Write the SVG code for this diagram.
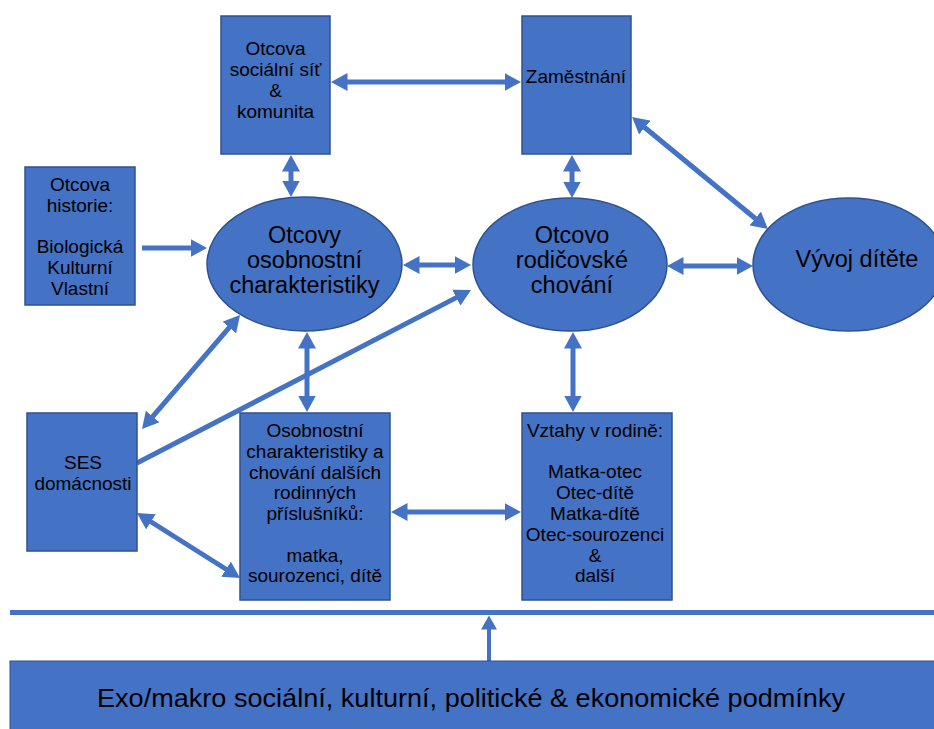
<svg xmlns="http://www.w3.org/2000/svg" width="934" height="729" viewBox="0 0 934 729">
<style>
.n{fill:#4472C4;stroke:#2F528F;stroke-width:1.5}
.t{font-family:"Liberation Sans",Arial,sans-serif;font-size:19px;fill:#000;text-anchor:middle}
.e{font-family:"Liberation Sans",Arial,sans-serif;font-size:23.5px;fill:#000;text-anchor:middle}
.c{stroke:#4472C4;stroke-width:5;fill:none}
</style>
<defs>
<marker id="ah" markerUnits="userSpaceOnUse" markerWidth="17" markerHeight="18" refX="0.5" refY="9" orient="auto-start-reverse" viewBox="0 0 17 18">
<path d="M0,0 L16.5,9 L0,18 z" fill="#4472C4"/>
</marker>
<marker id="ahs" markerUnits="userSpaceOnUse" markerWidth="17" markerHeight="16" refX="0.5" refY="8" orient="auto" viewBox="0 0 17 16">
<path d="M0,0 L14,8 L0,16 z" fill="#4472C4"/>
</marker>
</defs>
<rect width="934" height="729" fill="#fff"/>

<g id="connectors">
<line class="c" x1="347" y1="82" x2="505" y2="82" marker-start="url(#ah)" marker-end="url(#ah)"/>
<line class="c" x1="291" y1="171" x2="291" y2="181" marker-start="url(#ah)" marker-end="url(#ah)"/>
<line class="c" x1="142" y1="248" x2="191" y2="248" marker-end="url(#ah)"/>
<line class="c" x1="419" y1="265" x2="455" y2="265" marker-start="url(#ah)" marker-end="url(#ah)"/>
<line class="c" x1="572" y1="171" x2="572" y2="182" marker-start="url(#ah)" marker-end="url(#ah)"/>
<line class="c" x1="644.4" y1="127.2" x2="755.6" y2="218.8" marker-start="url(#ah)" marker-end="url(#ah)"/>
<line class="c" x1="683" y1="266" x2="737" y2="266" marker-start="url(#ah)" marker-end="url(#ah)"/>
<line class="c" x1="229.6" y1="327.1" x2="152.4" y2="416.9" marker-start="url(#ah)" marker-end="url(#ah)"/>
<line class="c" x1="137" y1="463" x2="456.8" y2="297.4" marker-end="url(#ah)"/>
<line class="c" x1="307" y1="348" x2="307" y2="396" marker-start="url(#ah)" marker-end="url(#ah)"/>
<line class="c" x1="150.5" y1="521.5" x2="226.5" y2="569.5" marker-start="url(#ah)" marker-end="url(#ah)"/>
<line class="c" x1="407" y1="512" x2="505" y2="512" marker-start="url(#ah)" marker-end="url(#ah)"/>
<line class="c" x1="573" y1="348" x2="573" y2="396" marker-start="url(#ah)" marker-end="url(#ah)"/>
<line x1="10" y1="612.5" x2="934" y2="612.5" stroke="#4472C4" stroke-width="5"/>
<line x1="489" y1="661" x2="489" y2="629" stroke="#4472C4" stroke-width="4" marker-end="url(#ahs)"/>
</g>

<g id="socialni-sit">
<rect class="n" x="221" y="16" width="109" height="138"/>
<text class="t" x="275.5" y="55">Otcova</text>
<text class="t" x="275.5" y="76">sociální síť</text>
<text class="t" x="275.5" y="97">&amp;</text>
<text class="t" x="275.5" y="118">komunita</text>
</g>

<g id="zamestnani">
<rect class="n" x="522" y="16" width="109" height="138"/>
<text class="t" x="576" y="83">Zaměstnání</text>
</g>

<g id="historie">
<rect class="n" x="25" y="167" width="110" height="138"/>
<text class="t" x="80" y="191">Otcova</text>
<text class="t" x="80" y="212">historie:</text>
<text class="t" x="80" y="253">Biologická</text>
<text class="t" x="80" y="274">Kulturní</text>
<text class="t" x="80" y="295">Vlastní</text>
</g>

<g id="osobnostni">
<ellipse class="n" cx="304.5" cy="264" rx="97.5" ry="67"/>
<text class="e" x="304.5" y="243">Otcovy</text>
<text class="e" x="304.5" y="268">osobnostní</text>
<text class="e" x="304.5" y="293">charakteristiky</text>
</g>

<g id="rodicovske">
<ellipse class="n" cx="570" cy="264.5" rx="97" ry="66.5"/>
<text class="e" x="572" y="243">Otcovo</text>
<text class="e" x="572" y="268">rodičovské</text>
<text class="e" x="572" y="293">chování</text>
</g>

<g id="vyvoj">
<ellipse class="n" cx="849" cy="264.5" rx="96" ry="66.5"/>
<text class="e" x="857" y="267">Vývoj dítěte</text>
</g>

<g id="ses">
<rect class="n" x="27" y="413" width="110" height="138"/>
<text class="t" x="83" y="469">SES</text>
<text class="t" x="83" y="490">domácnosti</text>
</g>

<g id="dalsi-prislusnici">
<rect class="n" x="240" y="413" width="150" height="187"/>
<text class="t" x="315" y="437">Osobnostní</text>
<text class="t" x="315" y="458">charakteristiky a</text>
<text class="t" x="315" y="479">chování dalších</text>
<text class="t" x="315" y="499">rodinných</text>
<text class="t" x="315" y="520">příslušníků:</text>
<text class="t" x="315" y="562">matka,</text>
<text class="t" x="315" y="582">sourozenci, dítě</text>
</g>

<g id="vztahy">
<rect class="n" x="522" y="413" width="150" height="187"/>
<text class="t" x="595" y="437">Vztahy v rodině:</text>
<text class="t" x="595" y="478">Matka-otec</text>
<text class="t" x="595" y="499">Otec-dítě</text>
<text class="t" x="595" y="520">Matka-dítě</text>
<text class="t" x="595" y="541">Otec-sourozenci</text>
<text class="t" x="595" y="562">&amp;</text>
<text class="t" x="595" y="582">další</text>
</g>

<g id="exo-makro">
<rect x="10" y="661" width="930" height="75" fill="#4472C4" stroke="#2F528F" stroke-width="1"/>
<text x="471" y="707" font-family="'Liberation Sans',Arial,sans-serif" font-size="26" text-anchor="middle" textLength="748" lengthAdjust="spacingAndGlyphs">Exo/makro sociální, kulturní, politické &amp; ekonomické podmínky</text>
</g>
</svg>
